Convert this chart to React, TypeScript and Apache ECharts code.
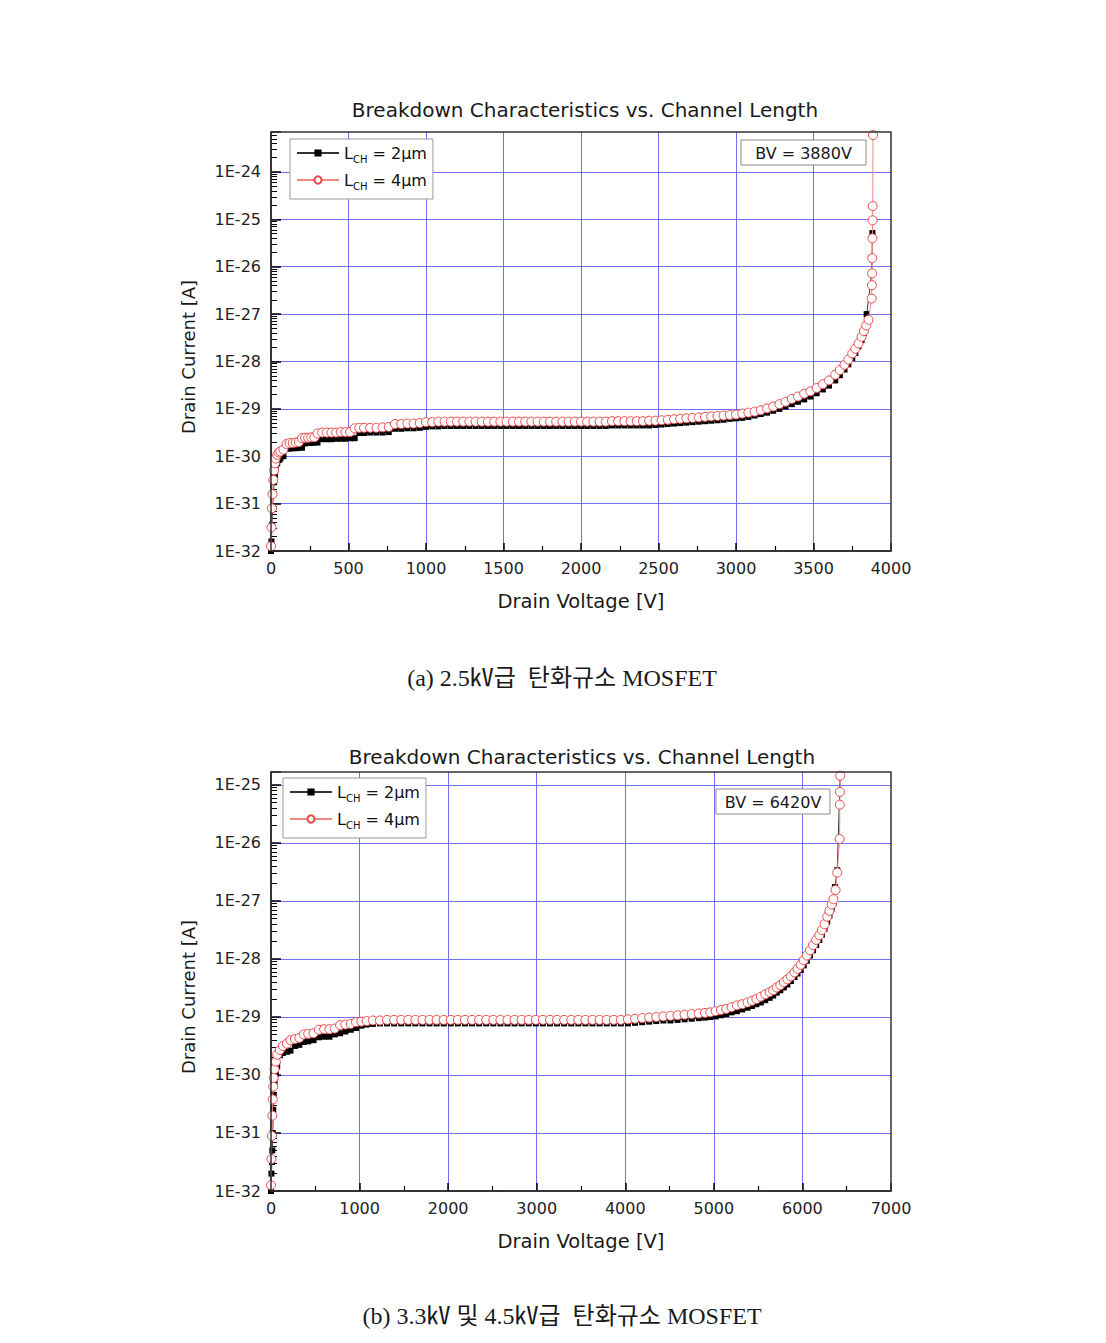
import React, { useEffect, useRef } from 'react';
import * as echarts from 'echarts';

// ---------- data (x = drain voltage [V], y = log10 of drain current [A]) ----------
const SERIES_NAMES = ['L_CH = 2μm', 'L_CH = 4μm'];
const TITLE = 'Breakdown Characteristics vs. Channel Length';
const X_NAME = 'Drain Voltage [V]';
const Y_NAME = 'Drain Current [A]';
const BV_LABELS = ['BV = 3880V', 'BV = 6420V'];
const CAPTIONS = ['(a) 2.5㎸급  탄화규소 MOSFET', '(b) 3.3㎸ 및 4.5㎸급  탄화규소 MOSFET'];

// chart (a)
const lch2A: number[][] = [
  [0,-32.0],[3,-31.8],[6,-31.45],[10,-31.1],[15,-30.8],[20,-30.55],[25,-30.4],[30,-30.28],[40,-30.15],[50,-30.08],
  [60,-30.05],[80,-30.0],[100,-29.84],[120,-29.84],[140,-29.83],[160,-29.83],[180,-29.82],[200,-29.82],[220,-29.73],[240,-29.72],
  [260,-29.72],[280,-29.71],[300,-29.71],[330,-29.64],[360,-29.64],[390,-29.64],[420,-29.63],[450,-29.63],[480,-29.63],[510,-29.62],
  [540,-29.62],[570,-29.51],[600,-29.51],[640,-29.5],[680,-29.5],[720,-29.5],[760,-29.49],[800,-29.42],[840,-29.42],[880,-29.41],
  [920,-29.41],[960,-29.4],[1000,-29.38],[1040,-29.37],[1080,-29.37],[1120,-29.36],[1160,-29.36],[1200,-29.36],[1240,-29.36],[1280,-29.36],
  [1320,-29.36],[1360,-29.36],[1400,-29.36],[1440,-29.36],[1480,-29.36],[1520,-29.36],[1560,-29.36],[1600,-29.36],[1640,-29.36],[1680,-29.36],
  [1720,-29.36],[1760,-29.36],[1800,-29.36],[1840,-29.36],[1880,-29.36],[1920,-29.36],[1960,-29.36],[2000,-29.36],[2040,-29.36],[2080,-29.36],
  [2120,-29.36],[2160,-29.36],[2200,-29.35],[2240,-29.35],[2280,-29.35],[2320,-29.35],[2360,-29.35],[2400,-29.35],[2440,-29.35],[2480,-29.34],
  [2520,-29.33],[2560,-29.32],[2600,-29.31],[2640,-29.3],[2680,-29.29],[2720,-29.28],[2760,-29.27],[2800,-29.26],[2840,-29.25],[2880,-29.24],
  [2920,-29.23],[2960,-29.21],[3000,-29.2],[3040,-29.19],[3080,-29.17],[3120,-29.14],[3160,-29.11],[3200,-29.08],[3240,-29.04],[3280,-29.0],
  [3320,-28.95],[3360,-28.9],[3400,-28.85],[3440,-28.8],[3480,-28.74],[3520,-28.67],[3560,-28.59],[3600,-28.51],[3640,-28.4],[3670,-28.29],
  [3700,-28.17],[3725,-28.06],[3750,-27.93],[3770,-27.82],[3790,-27.68],[3810,-27.55],[3825,-27.4],[3843,-27.0],[3876,-26.14],[3878,-25.82],
  [3880,-25.29]
];
const lch4A: number[][] = [
  [0,-31.9],[3,-31.5],[6,-31.1],[10,-30.8],[15,-30.5],[20,-30.3],[25,-30.15],[30,-30.05],[40,-29.97],[50,-29.92],
  [60,-29.9],[80,-29.86],[100,-29.74],[120,-29.72],[140,-29.72],[160,-29.71],[180,-29.7],[200,-29.62],[220,-29.61],[240,-29.61],
  [260,-29.6],[280,-29.6],[300,-29.52],[330,-29.5],[360,-29.5],[390,-29.5],[420,-29.5],[450,-29.49],[480,-29.49],[510,-29.49],
  [540,-29.41],[570,-29.4],[600,-29.4],[640,-29.4],[680,-29.4],[720,-29.39],[760,-29.38],[800,-29.32],[840,-29.32],[880,-29.31],
  [920,-29.31],[960,-29.3],[1000,-29.28],[1040,-29.28],[1080,-29.27],[1120,-29.27],[1160,-29.27],[1200,-29.27],[1240,-29.27],[1280,-29.27],
  [1320,-29.27],[1360,-29.27],[1400,-29.27],[1440,-29.27],[1480,-29.27],[1520,-29.27],[1560,-29.27],[1600,-29.27],[1640,-29.27],[1680,-29.27],
  [1720,-29.27],[1760,-29.27],[1800,-29.27],[1840,-29.27],[1880,-29.27],[1920,-29.27],[1960,-29.27],[2000,-29.27],[2040,-29.27],[2080,-29.27],
  [2120,-29.27],[2160,-29.27],[2200,-29.26],[2240,-29.26],[2280,-29.26],[2320,-29.26],[2360,-29.26],[2400,-29.26],[2440,-29.25],[2480,-29.25],
  [2520,-29.24],[2560,-29.23],[2600,-29.22],[2640,-29.21],[2680,-29.2],[2720,-29.19],[2760,-29.18],[2800,-29.17],[2840,-29.16],[2880,-29.15],
  [2920,-29.14],[2960,-29.13],[3000,-29.12],[3040,-29.1],[3080,-29.08],[3120,-29.06],[3160,-29.03],[3200,-28.99],[3240,-28.95],[3280,-28.9],
  [3320,-28.85],[3360,-28.79],[3400,-28.74],[3440,-28.68],[3480,-28.63],[3520,-28.56],[3560,-28.48],[3600,-28.4],[3640,-28.28],[3670,-28.18],
  [3700,-28.07],[3725,-27.96],[3750,-27.83],[3770,-27.73],[3790,-27.62],[3810,-27.48],[3825,-27.36],[3840,-27.24],[3855,-27.12],[3875,-26.67],
  [3877,-26.39],[3878,-26.14],[3879,-25.82],[3880,-25.4],[3881,-25.02],[3882,-24.72],[3884,-23.22]
];

// chart (b)
const lch2B: number[][] = [
  [0,-32.0],[5,-31.7],[10,-31.5],[15,-31.3],[20,-31.0],[25,-30.6],[30,-30.35],[40,-30.12],[55,-29.98],[70,-29.85],
  [100,-29.66],[135,-29.62],[180,-29.6],[220,-29.58],[270,-29.5],[320,-29.48],[370,-29.43],[420,-29.42],[480,-29.4],[540,-29.35],
  [600,-29.34],[660,-29.34],[720,-29.3],[780,-29.28],[840,-29.25],[900,-29.22],[960,-29.19],[1020,-29.15],[1080,-29.13],[1150,-29.12],
  [1230,-29.11],[1310,-29.11],[1390,-29.11],[1470,-29.11],[1550,-29.11],[1630,-29.11],[1710,-29.11],[1790,-29.11],[1870,-29.11],[1950,-29.11],
  [2030,-29.11],[2110,-29.11],[2190,-29.11],[2270,-29.11],[2350,-29.11],[2430,-29.11],[2510,-29.11],[2590,-29.11],[2670,-29.11],[2750,-29.11],
  [2830,-29.11],[2910,-29.11],[2990,-29.11],[3070,-29.11],[3150,-29.11],[3230,-29.11],[3310,-29.11],[3390,-29.11],[3470,-29.11],[3550,-29.11],
  [3630,-29.11],[3710,-29.11],[3790,-29.11],[3870,-29.11],[3950,-29.11],[4030,-29.11],[4110,-29.1],[4190,-29.09],[4270,-29.08],[4350,-29.07],
  [4430,-29.06],[4510,-29.06],[4590,-29.05],[4670,-29.04],[4750,-29.03],[4830,-29.02],[4900,-29.01],[4960,-29.0],[5020,-28.99],[5080,-28.97],
  [5140,-28.95],[5200,-28.92],[5260,-28.9],[5320,-28.87],[5380,-28.84],[5430,-28.81],[5480,-28.78],[5530,-28.75],[5580,-28.71],[5630,-28.67],
  [5670,-28.63],[5710,-28.58],[5750,-28.54],[5790,-28.49],[5830,-28.44],[5870,-28.38],[5910,-28.31],[5945,-28.25],[5980,-28.19],[6015,-28.11],
  [6050,-28.03],[6085,-27.94],[6120,-27.85],[6155,-27.76],[6190,-27.67],[6220,-27.58],[6250,-27.48],[6280,-27.36],[6305,-27.25],[6330,-27.13],
  [6350,-27.03],[6367,-26.76],[6393,-26.47],[6426,-24.84]
];
const lch4B: number[][] = [
  [0,-31.9],[5,-31.45],[10,-31.05],[15,-30.7],[20,-30.42],[25,-30.2],[30,-30.05],[40,-29.9],[55,-29.77],[70,-29.65],
  [100,-29.57],[135,-29.5],[180,-29.46],[220,-29.4],[270,-29.38],[320,-29.36],[370,-29.3],[420,-29.29],[480,-29.28],[540,-29.22],
  [600,-29.21],[660,-29.21],[720,-29.2],[780,-29.14],[840,-29.13],[900,-29.12],[960,-29.09],[1020,-29.08],[1080,-29.07],[1150,-29.06],
  [1230,-29.06],[1310,-29.05],[1390,-29.05],[1470,-29.05],[1550,-29.05],[1630,-29.05],[1710,-29.05],[1790,-29.05],[1870,-29.05],[1950,-29.05],
  [2030,-29.05],[2110,-29.05],[2190,-29.05],[2270,-29.05],[2350,-29.05],[2430,-29.05],[2510,-29.05],[2590,-29.05],[2670,-29.05],[2750,-29.05],
  [2830,-29.05],[2910,-29.05],[2990,-29.05],[3070,-29.05],[3150,-29.05],[3230,-29.05],[3310,-29.05],[3390,-29.05],[3470,-29.05],[3550,-29.05],
  [3630,-29.05],[3710,-29.05],[3790,-29.05],[3870,-29.05],[3950,-29.05],[4030,-29.04],[4110,-29.03],[4190,-29.02],[4270,-29.01],[4350,-29.0],
  [4430,-28.99],[4510,-28.98],[4590,-28.97],[4670,-28.96],[4750,-28.95],[4830,-28.94],[4900,-28.93],[4960,-28.92],[5020,-28.9],[5080,-28.88],
  [5140,-28.86],[5200,-28.83],[5260,-28.8],[5320,-28.78],[5380,-28.75],[5430,-28.72],[5480,-28.69],[5530,-28.65],[5580,-28.61],[5630,-28.57],
  [5670,-28.54],[5710,-28.49],[5750,-28.45],[5790,-28.4],[5830,-28.35],[5870,-28.3],[5910,-28.23],[5945,-28.17],[5980,-28.1],[6015,-28.02],
  [6050,-27.94],[6085,-27.85],[6120,-27.76],[6155,-27.67],[6190,-27.59],[6220,-27.5],[6250,-27.4],[6280,-27.27],[6305,-27.17],[6330,-27.06],
  [6350,-26.97],[6374,-26.81],[6393,-26.51],[6420,-25.93],[6422,-25.34],[6424,-25.12],[6426,-24.84]
];

// axis ranges (exponent of current) and voltage ticks
const Y_MIN = -32;
const Y_MAX_A = -23.156;
const Y_MAX_B = -24.776;
const X_MAX_A = 4000;
const X_STEP_A = 500;
const X_MAX_B = 7000;
const X_STEP_B = 1000;

// ---------- styling ----------
const SANS = '"DejaVu Sans", "Liberation Sans", sans-serif';
const SERIF = '"Liberation Serif", "Noto Sans CJK KR", serif';
const GRID_BLUE = '#7070f8';
const RED = '#e84848';
const GRID_A = { left: 271, top: 132, width: 620, height: 419 };
const GRID_B = { left: 271, top: 772, width: 620, height: 419 };

function minorLogTicks(lo: number, hi: number): number[] {
  const out: number[] = [];
  for (let n = lo; n < hi; n++) {
    for (let k = 2; k <= 9; k++) {
      const v = n + Math.log10(k);
      if (v < hi) out.push(v);
    }
  }
  return out;
}

function xAxisCfg(gridIndex: number, max: number, step: number) {
  return {
    gridIndex,
    type: 'value',
    min: 0,
    max,
    interval: step,
    axisLine: { show: true, onZero: false, lineStyle: { color: '#000', width: 1.5 } },
    axisTick: { show: true, inside: true, length: 8, lineStyle: { color: '#000', width: 1.5 } },
    minorTick: { show: true, splitNumber: 2, length: 5, lineStyle: { color: '#000', width: 1.2 } },
    axisLabel: { fontFamily: SANS, fontSize: 16, color: '#222', margin: 9, formatter: (v: number) => String(v) },
    splitLine: { show: true, showMinLine: false, showMaxLine: false, lineStyle: { color: GRID_BLUE, width: 1 } },
  };
}

function yAxisMain(gridIndex: number, max: number) {
  return {
    gridIndex,
    type: 'value',
    min: Y_MIN,
    max,
    interval: 1,
    axisLine: { show: true, onZero: false, lineStyle: { color: '#000', width: 1.5 } },
    axisTick: { show: true, inside: true, length: 10, lineStyle: { color: '#000', width: 1.5 } },
    axisLabel: {
      fontFamily: SANS,
      fontSize: 16,
      color: '#222',
      margin: 10,
      formatter: (v: number) => (Math.abs(v - Math.round(v)) < 1e-6 ? '1E' + Math.round(v) : ''),
    },
    splitLine: { show: true, showMinLine: false, showMaxLine: false, lineStyle: { color: GRID_BLUE, width: 1 } },
  };
}

function yAxisMinor(gridIndex: number, max: number) {
  return {
    gridIndex,
    type: 'value',
    position: 'left',
    offset: 0,
    min: Y_MIN,
    max,
    axisLine: { show: false },
    axisLabel: { show: false },
    splitLine: { show: false },
    axisTick: {
      show: true,
      inside: true,
      length: 6,
      lineStyle: { color: '#000', width: 1 },
      customValues: minorLogTicks(Y_MIN, Math.ceil(max)),
    },
  };
}

function seriesPair(xi: number, yi: number, d2: number[][], d4: number[][]) {
  return [
    {
      type: 'line',
      name: SERIES_NAMES[0],
      xAxisIndex: xi,
      yAxisIndex: yi,
      data: d2,
      symbol: 'rect',
      symbolSize: 6,
      itemStyle: { color: '#000' },
      lineStyle: { color: '#333', width: 1 },
      z: 2,
    },
    {
      type: 'line',
      name: SERIES_NAMES[1],
      xAxisIndex: xi,
      yAxisIndex: yi,
      data: d4,
      symbol: 'circle',
      symbolSize: 9,
      itemStyle: { color: '#fff', borderColor: RED, borderWidth: 1 },
      lineStyle: { color: '#f08888', width: 1 },
      z: 3,
    },
  ];
}

function legendCfg(left: number, top: number) {
  return {
    orient: 'vertical',
    left,
    top,
    data: SERIES_NAMES,
    selectedMode: false,
    itemWidth: 42,
    itemHeight: 9,
    itemGap: 5,
    padding: [3, 6, 8, 6],
    borderColor: '#999',
    borderWidth: 1,
    backgroundColor: '#fff',
    formatter: (name: string) => name.replace('L_CH', 'L{sub|CH}'),
    textStyle: {
      fontFamily: SANS,
      fontSize: 16,
      color: '#111',
      lineHeight: 22,
      rich: {
        sub: { fontFamily: SANS, fontSize: 10, color: '#111', lineHeight: 10, verticalAlign: 'bottom' },
      },
    },
  };
}

function txt(text: string, x: number, y: number, font: string, rotation = 0) {
  return {
    type: 'text',
    x,
    y,
    rotation,
    silent: true,
    z: 10,
    style: {
      text,
      font,
      fill: '#1a1a1a',
      textAlign: 'center',
      textVerticalAlign: 'middle',
      align: 'center',
      verticalAlign: 'middle',
    },
  };
}

function frame(g: { left: number; top: number; width: number; height: number }) {
  return {
    type: 'rect',
    silent: true,
    z: 5,
    shape: { x: g.left, y: g.top, width: g.width, height: g.height },
    style: { fill: 'none', stroke: '#333', lineWidth: 1.5 },
  };
}

function bvBox(label: string, x: number, y: number, w: number, h: number) {
  return [
    {
      type: 'rect',
      silent: true,
      z: 10,
      shape: { x, y, width: w, height: h },
      style: { fill: '#fff', stroke: '#8a8a8a', lineWidth: 1 },
    },
    txt(label, x + w / 2, y + h / 2 + 0.5, `16px ${SANS}`),
  ];
}

export default function App() {
  const ref = useRef<HTMLDivElement>(null);

  useEffect(() => {
    if (!ref.current) return;
    const chart = echarts.init(ref.current, undefined, { renderer: 'svg' });
    const option = {
      animation: false,
      backgroundColor: '#fff',
      grid: [
        { ...GRID_A, show: false, containLabel: false, outerBoundsMode: 'none' },
        { ...GRID_B, show: false, containLabel: false, outerBoundsMode: 'none' },
      ],
      xAxis: [xAxisCfg(0, X_MAX_A, X_STEP_A), xAxisCfg(1, X_MAX_B, X_STEP_B)],
      yAxis: [yAxisMain(0, Y_MAX_A), yAxisMinor(0, Y_MAX_A), yAxisMain(1, Y_MAX_B), yAxisMinor(1, Y_MAX_B)],
      legend: [legendCfg(290, 139), legendCfg(283, 778)],
      series: [...seriesPair(0, 0, lch2A, lch4A), ...seriesPair(1, 2, lch2B, lch4B)],
      graphic: [
        frame(GRID_A),
        frame(GRID_B),
        txt(TITLE, 585, 110, `20px ${SANS}`),
        txt(X_NAME, 581, 601, `19.5px ${SANS}`),
        txt(Y_NAME, 188, 357, `18px ${SANS}`, Math.PI / 2),
        ...bvBox(BV_LABELS[0], 741, 140, 125, 25),
        txt(CAPTIONS[0], 562, 678, `24px ${SERIF}`),
        txt(TITLE, 582, 757, `20px ${SANS}`),
        txt(X_NAME, 581, 1241, `19.5px ${SANS}`),
        txt(Y_NAME, 188, 997, `18px ${SANS}`, Math.PI / 2),
        ...bvBox(BV_LABELS[1], 716, 789, 114, 25),
        txt(CAPTIONS[1], 562, 1316, `24px ${SERIF}`),
      ],
    };
    chart.setOption(option as any);
    return () => chart.dispose();
  }, []);

  return (
    <div
      ref={ref}
      style={{ position: 'absolute', left: 0, top: 0, width: 1106, height: 1343, background: '#fff' }}
    />
  );
}
